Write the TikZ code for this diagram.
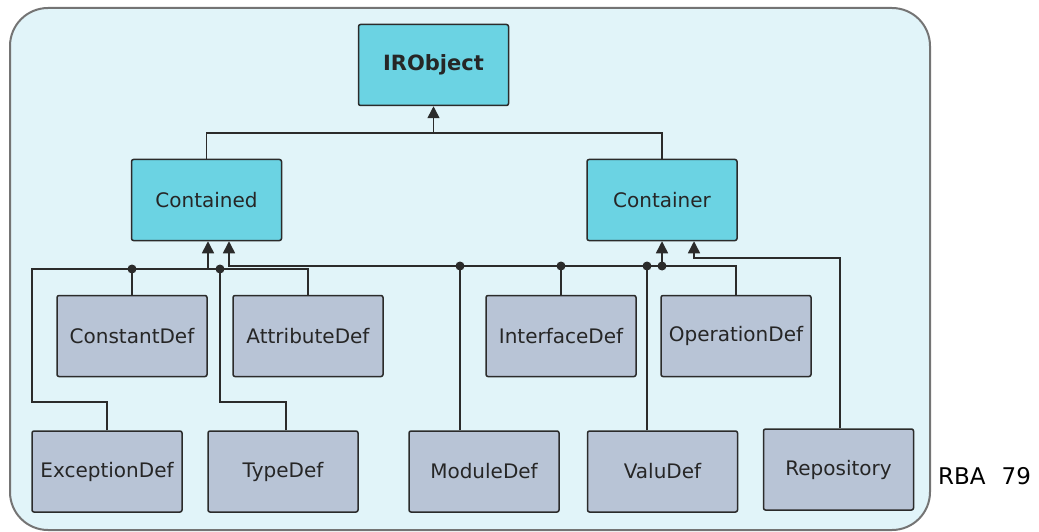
\documentclass[tikz,border=0pt]{standalone}
\usepackage{fontspec}
\setmainfont{DejaVu Sans}
\usetikzlibrary{arrows.meta}
\definecolor{bgc}{HTML}{E1F4F9}
\definecolor{framec}{HTML}{747474}
\definecolor{topc}{HTML}{6BD3E3}
\definecolor{subc}{HTML}{B8C4D6}
\definecolor{linec}{HTML}{2B2B2B}
\begin{document}
\begin{tikzpicture}[x=1pt,y=-1pt,
 box/.style={draw=linec, line width=1.5pt, rounded corners=2pt, minimum width=150pt, minimum height=81pt, inner sep=0pt, font=\fontsize{20}{22}\selectfont, text=black!85},
 topbox/.style={box, fill=topc},
 subbox/.style={box, fill=subc},
 conn/.style={draw=linec, line width=1.5pt},
 inh/.style={conn, -{Triangle[width=12pt,length=12pt]}},
 jdot/.style={circle, fill=linec, inner sep=0pt, minimum size=9pt}
]
\useasboundingbox (0,0) rectangle (1039,532);
\draw[draw=framec, line width=2pt, fill=bgc, rounded corners=38pt] (10,8) rectangle (930,530);

% nodes
\node[topbox, font=\bfseries\fontsize{21}{22}\selectfont] (IRObject) at (433.5,65) {IRObject};
\node[topbox] (Contained) at (206.5,200) {Contained};
\node[topbox] (Container) at (662,200) {Container};
\node[subbox] (ConstantDef) at (132,336) {ConstantDef};
\node[subbox] (AttributeDef) at (308,336) {AttributeDef};
\node[subbox] (InterfaceDef) at (561,336) {InterfaceDef};
\node[subbox] (OperationDef) at (736,336) {OperationDef};
\node[subbox] (ExceptionDef) at (107,471.5) {ExceptionDef};
\node[subbox] (TypeDef) at (283,471.5) {TypeDef};
\node[subbox] (ModuleDef) at (484,471.5) {ModuleDef};
\node[subbox] (ValuDef) at (662.5,471.5) {ValuDef};
\node[subbox] (Repository) at (838.5,469.5) {Repository};
\node[anchor=west, font=\fontsize{23}{24}\selectfont, inner sep=0pt] (rba) at (938,476) {RBA\hspace{16pt}79};

% helper coordinates
\coordinate (topbus) at (0,133);
\coordinate (busA) at (32,269);
\coordinate (busB) at (0,266);
\coordinate (busR) at (0,258);
\coordinate (lowL) at (0,402);
\coordinate (cA1) at ([xshift=1.5pt]Contained.south);
\coordinate (cA2) at ([xshift=22.5pt]Contained.south);
\coordinate (kA1) at (Container.south);
\coordinate (kA2) at ([xshift=32pt]Container.south);
\coordinate (tdT) at ([xshift=3pt]TypeDef.north);
\coordinate (tj) at (220,269);
\coordinate (mdT) at ([xshift=-24pt]ModuleDef.north);
\coordinate (vdT) at ([xshift=-15.5pt]ValuDef.north);
\coordinate (rpT) at ([xshift=1.5pt]Repository.north);

% IRObject level
\draw[conn] (Contained.north) -- (Contained.north |- topbus) -| (Container.north);
\draw[inh] (IRObject.south |- topbus) -- (IRObject.south);

% bus A (Contained only)
\draw[conn] (ExceptionDef.north) |- (busA |- lowL) -- (busA) -| (AttributeDef.north);
\draw[inh] (cA1 |- busA) -- (cA1);
\draw[conn] (ConstantDef.north) -- (ConstantDef.north |- busA) node[jdot] (d1) {};
\draw[conn] (tdT) |- (tj |- lowL) -- (tj) node[jdot] (d2) {};

% bus B
\draw[inh] (OperationDef.north) |- (cA2 |- busB) -- (cA2);
\draw[conn] (mdT) -- (mdT |- busB) node[jdot] (d3) {};
\draw[conn] (InterfaceDef.north) -- (InterfaceDef.north |- busB) node[jdot] (d4) {};
\draw[conn] (vdT) -- (vdT |- busB) node[jdot] (d5) {};
\draw[inh] (kA1 |- busB) -- (kA1);
\node[jdot] (d6) at (kA1 |- busB) {};

% Repository
\draw[inh] (rpT) |- (kA2 |- busR) -- (kA2);
\end{tikzpicture}
\end{document}
